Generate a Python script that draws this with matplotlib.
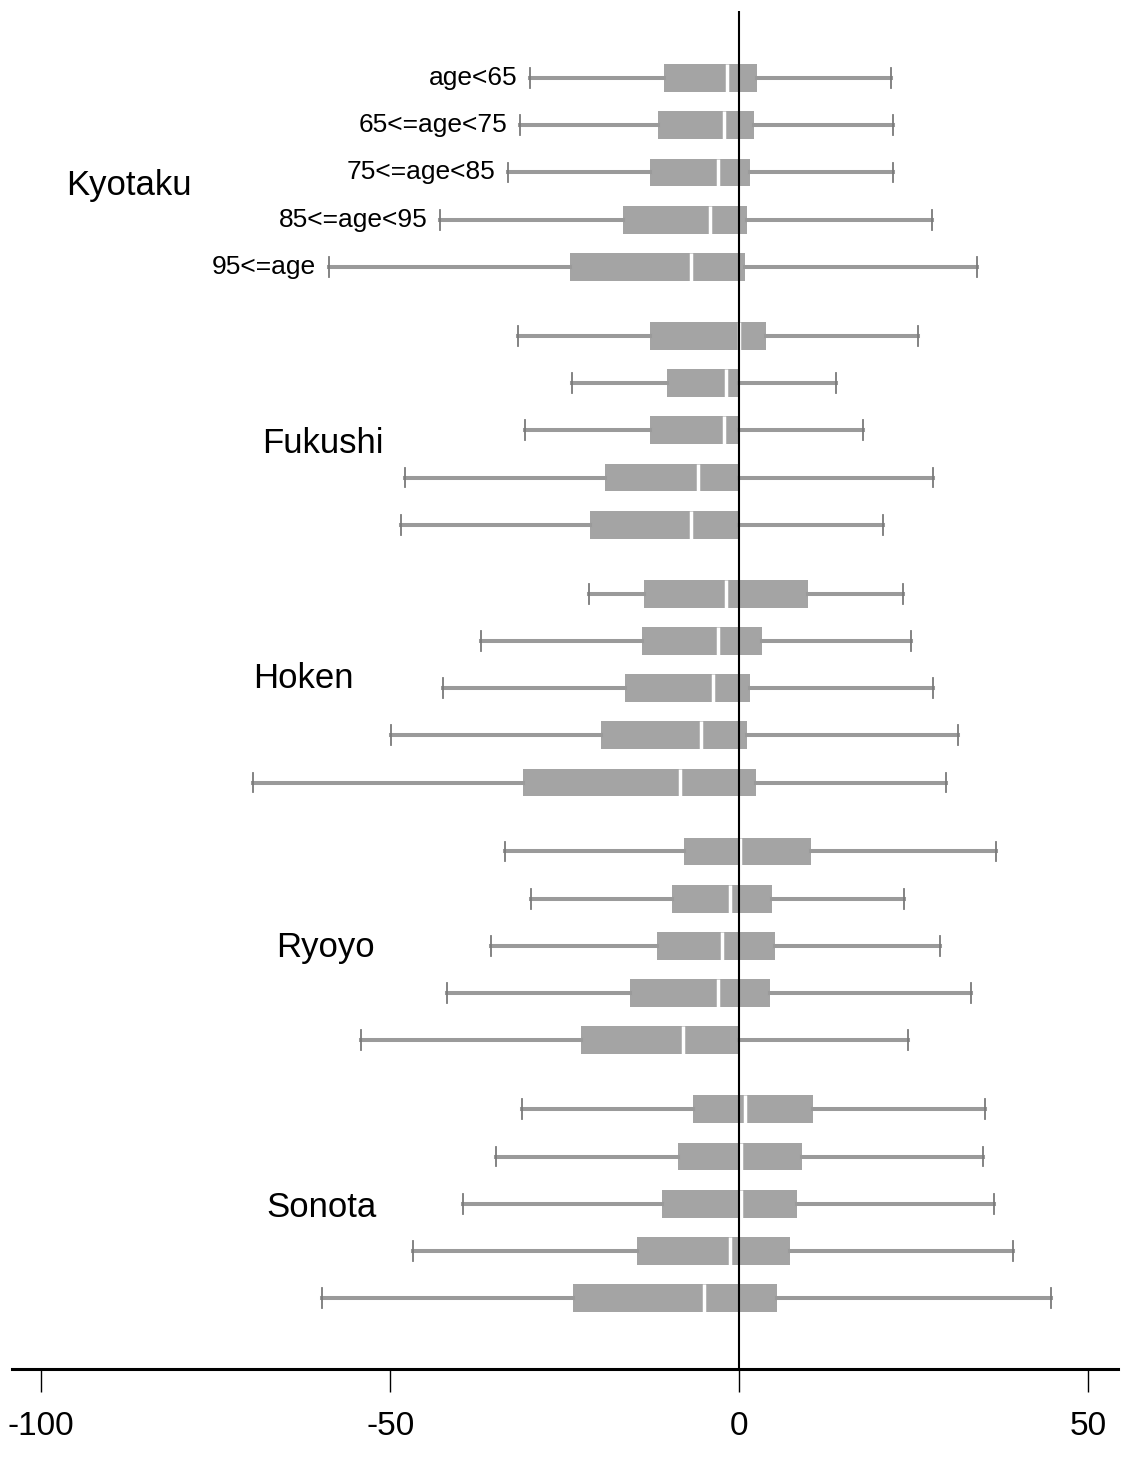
import matplotlib.pyplot as plt

plt.rcParams['font.family'] = ['Liberation Sans', 'DejaVu Sans']

groups = ["Kyotaku", "Fukushi", "Hoken", "Ryoyo", "Sonota"]
age_labels = ["age<65", "65<=age<75", "75<=age<85", "85<=age<95", "95<=age"]

# rows in each group: age<65, 65-75, 75-85, 85-95, 95+
kyotaku_lo = [-30.0, -31.4, -33.1, -42.8, -58.8]
kyotaku_q1 = [-10.7, -11.6, -12.7, -16.7, -24.3]
kyotaku_med = [-1.8, -2.2, -3.0, -4.2, -6.9]
kyotaku_q3 = [2.6, 2.2, 1.6, 1.1, 0.9]
kyotaku_hi = [21.8, 22.1, 22.0, 27.6, 34.1]

fukushi_lo = [-31.7, -24.0, -30.7, -47.9, -48.4]
fukushi_q1 = [-12.8, -10.4, -12.8, -19.2, -21.4]
fukushi_med = [0.0, -1.9, -2.1, -5.9, -6.9]
fukushi_q3 = [3.8, 0.0, 0.0, 0.0, 0.0]
fukushi_hi = [25.6, 13.9, 17.8, 27.8, 20.6]

hoken_lo = [-21.5, -37.0, -42.5, -49.9, -69.7]
hoken_q1 = [-13.7, -13.9, -16.3, -19.8, -31.0]
hoken_med = [-1.9, -3.0, -3.8, -5.5, -8.4]
hoken_q3 = [9.9, 3.3, 1.6, 1.2, 2.4]
hoken_hi = [23.5, 24.7, 27.8, 31.3, 29.7]

ryoyo_lo = [-33.5, -29.8, -35.6, -41.9, -54.2]
ryoyo_q1 = [-7.9, -9.6, -11.7, -15.7, -22.6]
ryoyo_med = [0.2, -1.25, -2.4, -3.0, -8.1]
ryoyo_q3 = [10.3, 4.7, 5.1, 4.4, 0.0]
ryoyo_hi = [36.8, 23.7, 28.8, 33.2, 24.2]

sonota_lo = [-31.1, -34.8, -39.5, -46.8, -59.8]
sonota_q1 = [-6.65, -8.8, -11.0, -14.6, -23.8]
sonota_med = [0.9, 0.3, 0.3, -1.3, -5.0]
sonota_q3 = [10.6, 9.0, 8.3, 7.3, 5.5]
sonota_hi = [35.2, 35.0, 36.6, 39.3, 44.7]

table = [
    (kyotaku_lo, kyotaku_q1, kyotaku_med, kyotaku_q3, kyotaku_hi),
    (fukushi_lo, fukushi_q1, fukushi_med, fukushi_q3, fukushi_hi),
    (hoken_lo, hoken_q1, hoken_med, hoken_q3, hoken_hi),
    (ryoyo_lo, ryoyo_q1, ryoyo_med, ryoyo_q3, ryoyo_hi),
    (sonota_lo, sonota_q1, sonota_med, sonota_q3, sonota_hi),
]

group_step = 5.46
stats = []
pos = []
for g, (lo, q1, med, q3, hi) in enumerate(table):
    for i in range(5):
        stats.append({"whislo": lo[i], "q1": q1[i], "med": med[i],
                      "q3": q3[i], "whishi": hi[i], "fliers": []})
        pos.append(g * group_step + i)

fig = plt.figure(figsize=(11.23, 14.58), dpi=100)
ax = fig.add_axes([12 / 1123, 1 - 1369 / 1458, 1106 / 1123, 1358 / 1458])

ax.bxp(stats, positions=pos, orientation="horizontal", widths=0.59,
       capwidths=0.42, patch_artist=True, showfliers=False,
       boxprops=dict(facecolor="#a4a4a4", edgecolor="none", linewidth=0),
       whiskerprops=dict(color="#9a9a9a", linewidth=2.9),
       capprops=dict(color="#7a7a7a", linewidth=1.3),
       medianprops=dict(color="white", linewidth=2.5))

ax.axvline(0, color="black", linewidth=1.5, zorder=5)

# age labels next to the lower whiskers of the first group
for i, lab in enumerate(age_labels):
    ax.annotate(lab, xy=(kyotaku_lo[i], pos[i]), xytext=(-9, 0),
                textcoords="offset points", ha="right", va="center",
                fontsize=19)

# group names
name_x = [-87.4, -59.6, -62.5, -59.3, -59.9]
name_row = [2.48, 2.49, 1.99, 2.23, 2.29]
for g, name in enumerate(groups):
    ax.text(name_x[g], g * group_step + name_row[g], name, ha="center",
            va="baseline", fontsize=25)

ax.set_xlim(-104.2, 54.3)
ax.set_ylim(4 * group_step + 4 + 1.50, -1.42)
ax.set_xticks([-100, -50, 0, 50])
ax.set_xticklabels(["-100", "-50", "0", "50"])
ax.set_yticks([])
ax.tick_params(axis="x", length=16.5, width=1, pad=14, labelsize=24)
for s in ["left", "top", "right"]:
    ax.spines[s].set_visible(False)
ax.spines["bottom"].set_linewidth(2.2)

plt.savefig("out.png")
